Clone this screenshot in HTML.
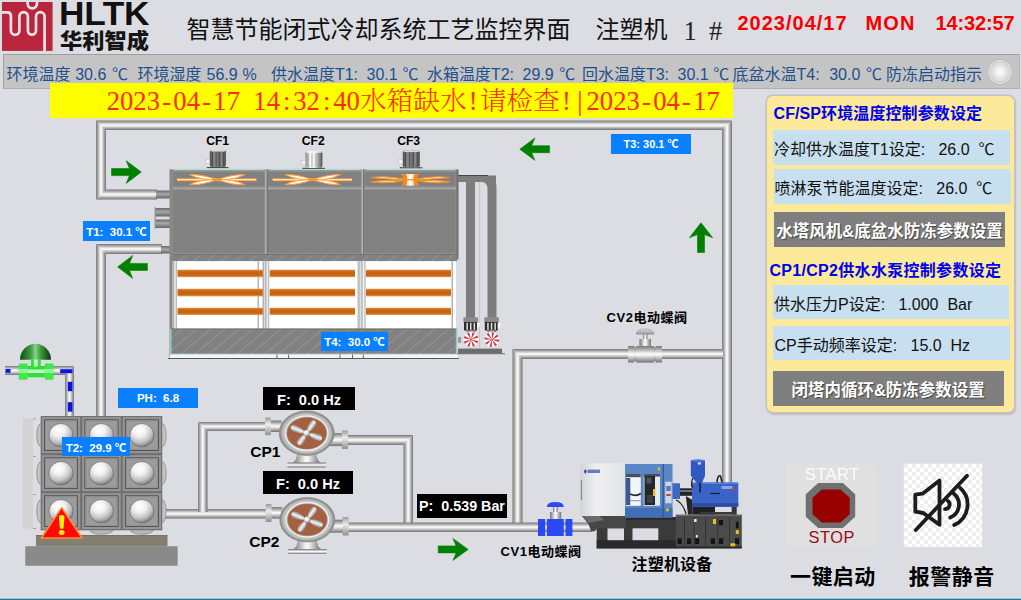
<!DOCTYPE html>
<html lang="zh"><head><meta charset="utf-8"><title>智慧节能闭式冷却系统工艺监控界面</title>
<style>
html,body{margin:0;padding:0}
body{width:1021px;height:600px;overflow:hidden;background:#dcdde3;font-family:"Liberation Sans","Noto Sans CJK SC",sans-serif;position:relative}
.a{position:absolute;white-space:nowrap;line-height:1}
#g{position:absolute;left:0;top:0}
.tag{position:absolute;background:#0a80ff;color:#fff;font-weight:bold;font-size:11.5px;text-align:center;white-space:pre;box-sizing:border-box}
.blk{position:absolute;background:#000;color:#fff;font-weight:bold;font-size:13.5px;text-align:center;white-space:pre;box-sizing:border-box}
.lab{position:absolute;color:#000;font-weight:bold;white-space:nowrap;line-height:1}
.row{position:absolute;background:#c8dff0;color:#111;font-size:16px;white-space:pre;box-sizing:border-box;line-height:1}
.gbtn{position:absolute;background:#7f7f7f;color:#fff;font-weight:bold;font-size:16.5px;text-align:center;white-space:nowrap;box-sizing:border-box;text-shadow:1px 1px 1px #444}
.c1{display:inline-block;width:13.333px;text-align:center}.c2{display:inline-block;width:26.667px;text-align:center;font-weight:300}
.ttl{position:absolute;color:#0000f0;font-weight:bold;font-size:16px;white-space:nowrap;line-height:1}
</style></head><body>
<svg id="g" width="1021" height="600" viewBox="0 0 1021 600">
<defs>
<linearGradient id="gcap" x1="0" y1="0" x2="0" y2="1"><stop offset="0" stop-color="#d8d8d8"/><stop offset="1" stop-color="#9a9a9a"/></linearGradient>
<linearGradient id="motd" x1="0" y1="0" x2="1" y2="0"><stop offset="0" stop-color="#4e4e4e"/><stop offset="0.3" stop-color="#8e8e8e"/><stop offset="0.55" stop-color="#6c6c6c"/><stop offset="0.75" stop-color="#888"/><stop offset="1" stop-color="#474747"/></linearGradient>
<linearGradient id="motl" x1="0" y1="0" x2="1" y2="0"><stop offset="0" stop-color="#8a8a8a"/><stop offset="0.3" stop-color="#fdfdfd"/><stop offset="0.6" stop-color="#ececec"/><stop offset="0.82" stop-color="#7a7a7a"/><stop offset="1" stop-color="#555"/></linearGradient>
<linearGradient id="postg" x1="0" y1="0" x2="1" y2="0"><stop offset="0" stop-color="#9a9a9a"/><stop offset="0.5" stop-color="#f2f2f2"/><stop offset="1" stop-color="#a8a8a8"/></linearGradient>
<linearGradient id="flg" x1="0" y1="0" x2="0" y2="1"><stop offset="0" stop-color="#9a9a9a"/><stop offset="0.4" stop-color="#ececec"/><stop offset="1" stop-color="#909090"/></linearGradient>
<linearGradient id="blade" x1="0" y1="0" x2="0" y2="1"><stop offset="0" stop-color="#7c7c7c"/><stop offset="0.5" stop-color="#f6f6f6"/><stop offset="1" stop-color="#888888"/></linearGradient>
<linearGradient id="mwhite" x1="0" y1="0" x2="1" y2="0"><stop offset="0" stop-color="#d2d3d6"/><stop offset="0.35" stop-color="#f0f0f2"/><stop offset="1" stop-color="#e2e3e6"/></linearGradient>
</defs>
<defs>
<linearGradient id="ph" x1="0" y1="0" x2="0" y2="1" gradientUnits="objectBoundingBox">
<stop offset="0" stop-color="#787878"/><stop offset="0.2" stop-color="#acacac"/><stop offset="0.46" stop-color="#f8f8f8"/><stop offset="0.56" stop-color="#f2f2f2"/><stop offset="0.82" stop-color="#a4a4a4"/><stop offset="1" stop-color="#727272"/>
</linearGradient>
<linearGradient id="pv" x1="0" y1="0" x2="1" y2="0" gradientUnits="objectBoundingBox">
<stop offset="0" stop-color="#787878"/><stop offset="0.2" stop-color="#acacac"/><stop offset="0.46" stop-color="#f8f8f8"/><stop offset="0.56" stop-color="#f2f2f2"/><stop offset="0.82" stop-color="#a4a4a4"/><stop offset="1" stop-color="#727272"/>
</linearGradient>
<linearGradient id="gv" x1="0" y1="0" x2="1" y2="0">
<stop offset="0" stop-color="#6a6a6a"/><stop offset="0.45" stop-color="#b8b8b8"/><stop offset="1" stop-color="#686868"/>
</linearGradient>
<linearGradient id="gh" x1="0" y1="0" x2="0" y2="1">
<stop offset="0" stop-color="#6a6a6a"/><stop offset="0.45" stop-color="#a8a8a8"/><stop offset="1" stop-color="#666"/>
</linearGradient>
<radialGradient id="ball" cx="0.4" cy="0.3" r="0.75">
<stop offset="0" stop-color="#ffffff"/><stop offset="0.35" stop-color="#f0f0f0"/><stop offset="0.7" stop-color="#bdbdbd"/><stop offset="1" stop-color="#6e6e6e"/>
</radialGradient>
<radialGradient id="led" cx="0.5" cy="0.5" r="0.5">
<stop offset="0" stop-color="#ffffff"/><stop offset="0.55" stop-color="#e4e4e4"/><stop offset="0.8" stop-color="#c4c4c4"/><stop offset="1" stop-color="#9a9a9a"/>
</radialGradient>
<radialGradient id="pumpring" cx="0.5" cy="0.5" r="0.5">
<stop offset="0.72" stop-color="#a2a2a2"/><stop offset="0.86" stop-color="#c6c6c6"/><stop offset="1" stop-color="#7c7c7c"/>
</radialGradient>
<linearGradient id="greend" x1="0" y1="0" x2="1" y2="0">
<stop offset="0" stop-color="#0e4a0e"/><stop offset="0.35" stop-color="#3f9f3f"/><stop offset="0.5" stop-color="#8ccf8c"/><stop offset="0.65" stop-color="#3f9f3f"/><stop offset="1" stop-color="#0a360a"/>
</linearGradient>
<linearGradient id="fan" x1="0" y1="0" x2="0" y2="1">
<stop offset="0" stop-color="#f08a24"/><stop offset="0.5" stop-color="#fff4e0"/><stop offset="1" stop-color="#f08a24"/>
</linearGradient>
<linearGradient id="obar" x1="0" y1="0" x2="0" y2="1">
<stop offset="0" stop-color="#e08a3a"/><stop offset="0.3" stop-color="#c8660f"/><stop offset="0.75" stop-color="#c8660f"/><stop offset="1" stop-color="#e6a060"/>
</linearGradient>
<pattern id="hatch" width="9" height="9" patternUnits="userSpaceOnUse" patternTransform="rotate(-40)">
<rect width="9" height="9" fill="#818181"/><rect y="0" width="9" height="0.7" fill="#9d9d9d"/>
</pattern>
<pattern id="checker" width="8" height="8" patternUnits="userSpaceOnUse">
<rect width="8" height="8" fill="#ffffff"/><rect width="4" height="4" fill="#eeeeee"/><rect x="4" y="4" width="4" height="4" fill="#eeeeee"/>
</pattern>
</defs>
<polygon points="106,189.5 157,189.5 157,199.5 96,199.5" fill="url(#ph)"/>
<polygon points="96,120.5 106,130.5 106,189.5 96,199.5" fill="url(#pv)"/>
<polygon points="96,120.5 732,120.5 722.5,130 105.5,130" fill="url(#ph)"/>
<polygon points="722,130.5 732,120.5 732,483 722,483" fill="url(#pv)"/>
<polygon points="96,244 162,244 162,254 106,254" fill="url(#ph)"/>
<polygon points="96,244 106,254 106,416 96,416" fill="url(#pv)"/>
<polygon points="512.5,349 723,349 723,359 522.5,359" fill="url(#ph)"/>
<polygon points="512.5,349 522.5,359 522.5,525 512.5,525" fill="url(#pv)"/>
<polygon points="163,509 270,509 270,518.5 163,518.5" fill="url(#ph)"/>
<polygon points="198,422 207.5,431.5 207.5,512 198,512" fill="url(#pv)"/>
<polygon points="198,422 268,422 268,431 207,431" fill="url(#ph)"/>
<polygon points="346,435 413,435 403,445 346,445" fill="url(#ph)"/>
<polygon points="403.5,444.5 413,435 413,526 403.5,526" fill="url(#pv)"/>
<polygon points="346,522.5 592,522.5 592,532 346,532" fill="url(#ph)"/>
<polygon points="5,366 74,366 65,375 5,375" fill="url(#ph)"/>
<polygon points="65,375 74,366 74,416 65,416" fill="url(#pv)"/>
<rect x="5.5" y="369" width="5" height="3.8" fill="#1010e8"/>
<rect x="60.2" y="369.2" width="12.2" height="4" fill="#1010e8"/>
<rect x="67.8" y="381.8" width="4.6" height="9.4" fill="#1010e8"/>
<rect x="67.8" y="402.2" width="4.6" height="9.4" fill="#1010e8"/>
<rect x="156" y="190.5" width="14" height="8" fill="url(#gh)"/>
<rect x="155" y="208" width="15" height="8.5" fill="url(#gh)"/>
<rect x="155" y="219.5" width="15" height="8.5" fill="url(#gh)"/>
<rect x="161" y="246" width="9" height="7.5" fill="url(#gh)"/>
<rect x="154.5" y="207" width="1.2" height="22" fill="#999"/>
<rect x="170" y="169.5" width="288" height="85" fill="#818181"/>
<rect x="173.5" y="168.5" width="89.5" height="1.7" fill="#b7dcd4"/>
<rect x="269.5" y="168.5" width="90" height="1.7" fill="#b7dcd4"/>
<rect x="366.5" y="168.5" width="88.5" height="1.7" fill="#b7dcd4"/>
<rect x="172.6" y="171.2" width="92.4" height="15.6" fill="none" stroke="#9c9c9c" stroke-width="0.7"/>
<rect x="172.6" y="189.6" width="92.4" height="63.6" fill="none" stroke="#999999" stroke-width="0.7"/>
<rect x="267.6" y="171.2" width="93.8" height="15.6" fill="none" stroke="#9c9c9c" stroke-width="0.7"/>
<rect x="267.6" y="189.6" width="93.8" height="63.6" fill="none" stroke="#999999" stroke-width="0.7"/>
<rect x="364.2" y="171.2" width="91.8" height="15.6" fill="none" stroke="#9c9c9c" stroke-width="0.7"/>
<rect x="364.2" y="189.6" width="91.8" height="63.6" fill="none" stroke="#999999" stroke-width="0.7"/>
<rect x="169.5" y="169.5" width="3" height="188" fill="#8a8682"/>
<rect x="173" y="187.6" width="285" height="1.2" fill="#b2b2b2"/>
<rect x="173" y="170.3" width="285" height="0.8" fill="#9c9c9c"/>
<rect x="265.2" y="169.5" width="1.6" height="85" fill="#b4b4b4"/>
<rect x="266.8" y="169.5" width="1" height="85" fill="#6c6c6c"/>
<rect x="361.7" y="169.5" width="1.6" height="85" fill="#b4b4b4"/>
<rect x="363.3" y="169.5" width="1" height="85" fill="#6c6c6c"/>
<rect x="456.5" y="169.5" width="2" height="90" fill="#6e6e6e"/>
<rect x="177" y="178.2" width="79.4" height="3" fill="#f7962e"/><rect x="177" y="179.15" width="79.4" height="1.1" fill="#fff1dc"/><path d="M217.2 179.7 Q232.5 178.85 244.7 184.6 Q233.4 185.45 217.2 179.7 Z" fill="#fff6ea" stroke="#f7a040" stroke-width="1.0" stroke-linejoin="round"/><path d="M217.2 179.7 Q233.4 173.95 244.7 174.8 Q232.5 180.55 217.2 179.7 Z" fill="#fff6ea" stroke="#f7a040" stroke-width="1.0" stroke-linejoin="round"/><path d="M217.2 179.7 Q201.9 178.85 189.7 184.6 Q201 185.45 217.2 179.7 Z" fill="#fff6ea" stroke="#f7a040" stroke-width="1.0" stroke-linejoin="round"/><path d="M217.2 179.7 Q201 173.95 189.7 174.8 Q201.9 180.55 217.2 179.7 Z" fill="#fff6ea" stroke="#f7a040" stroke-width="1.0" stroke-linejoin="round"/><ellipse cx="217.2" cy="179.7" rx="5" ry="1.1" fill="#f7962e"/>
<rect x="272.6" y="178.2" width="79.4" height="3" fill="#f7962e"/><rect x="272.6" y="179.15" width="79.4" height="1.1" fill="#fff1dc"/><path d="M312.8 179.7 Q328.1 178.85 340.3 184.6 Q329 185.45 312.8 179.7 Z" fill="#fff6ea" stroke="#f7a040" stroke-width="1.0" stroke-linejoin="round"/><path d="M312.8 179.7 Q329 173.95 340.3 174.8 Q328.1 180.55 312.8 179.7 Z" fill="#fff6ea" stroke="#f7a040" stroke-width="1.0" stroke-linejoin="round"/><path d="M312.8 179.7 Q297.5 178.85 285.3 184.6 Q296.6 185.45 312.8 179.7 Z" fill="#fff6ea" stroke="#f7a040" stroke-width="1.0" stroke-linejoin="round"/><path d="M312.8 179.7 Q296.6 173.95 285.3 174.8 Q297.5 180.55 312.8 179.7 Z" fill="#fff6ea" stroke="#f7a040" stroke-width="1.0" stroke-linejoin="round"/><ellipse cx="312.8" cy="179.7" rx="5" ry="1.1" fill="#f7962e"/>
<path d="M414.3 180.1 Q434.3 184.1 449.5 181.9 Q434.3 179.9 414.3 180.1 Z" fill="#fff0dc" stroke="#f59024" stroke-width="1.1" stroke-linejoin="round"/><path d="M414.3 179.3 Q434.3 175.3 449.5 177.5 Q434.3 179.5 414.3 179.3 Z" fill="#fff0dc" stroke="#f59024" stroke-width="1.1" stroke-linejoin="round"/><path d="M406.3 180.1 Q386.3 184.1 371.1 181.9 Q386.3 179.9 406.3 180.1 Z" fill="#fff0dc" stroke="#f59024" stroke-width="1.1" stroke-linejoin="round"/><path d="M406.3 179.3 Q386.3 175.3 371.1 177.5 Q386.3 179.5 406.3 179.3 Z" fill="#fff0dc" stroke="#f59024" stroke-width="1.1" stroke-linejoin="round"/><path d="M400.9 174.1 L419.7 174.1 Q413.8 179.7 419.7 185.6 L400.9 185.6 Q406.8 179.7 400.9 174.1 Z" fill="#f58a22"/><path d="M406.3 174.1 L414.3 174.1 Q412.3 179.7 414.3 185.6 L406.3 185.6 Q408.3 179.7 406.3 174.1 Z" fill="#ffe6cc"/><rect x="409.2" y="174.1" width="2.2" height="11.5" fill="#fff"/><rect x="403.3" y="179.1" width="14" height="1.2" fill="#f58a22"/>
<rect x="206.8" y="167" width="21.6" height="1.1" fill="#4a4a4a"/><rect x="209.8" y="150" width="16.1" height="17" rx="2" fill="url(#motd)"/><rect x="211.95" y="152.2" width="0.9" height="14" fill="#454545"/><rect x="215.583" y="152.2" width="0.9" height="14" fill="#454545"/><rect x="219.217" y="152.2" width="0.9" height="14" fill="#454545"/><rect x="222.85" y="152.2" width="0.9" height="14" fill="#454545"/><rect x="210.6" y="150" width="14.5" height="1.6" rx="0.8" fill="#d9d9d9"/><rect x="205.9" y="159.4" width="3.8" height="4.4" fill="#f4f4f4" stroke="#aaa" stroke-width="0.4"/>
<rect x="302.4" y="167.8" width="22.5" height="1.1" fill="#4a4a4a"/><rect x="305.4" y="151.2" width="17" height="16.6" rx="2" fill="url(#motl)"/><rect x="307.55" y="153.4" width="0.9" height="13.6" fill="#9a9a9a"/><rect x="311.483" y="153.4" width="0.9" height="13.6" fill="#9a9a9a"/><rect x="315.417" y="153.4" width="0.9" height="13.6" fill="#9a9a9a"/><rect x="319.35" y="153.4" width="0.9" height="13.6" fill="#9a9a9a"/><rect x="306.2" y="151.2" width="15.4" height="1.6" rx="0.8" fill="#f4f4f4"/><rect x="301.5" y="160.2" width="3.8" height="4.4" fill="#f4f4f4" stroke="#aaa" stroke-width="0.4"/>
<rect x="399.8" y="167.2" width="22.5" height="1.1" fill="#4a4a4a"/><rect x="402.8" y="150.4" width="17" height="16.8" rx="2" fill="url(#motd)"/><rect x="404.95" y="152.6" width="0.9" height="13.8" fill="#454545"/><rect x="408.883" y="152.6" width="0.9" height="13.8" fill="#454545"/><rect x="412.817" y="152.6" width="0.9" height="13.8" fill="#454545"/><rect x="416.75" y="152.6" width="0.9" height="13.8" fill="#454545"/><rect x="403.6" y="150.4" width="15.4" height="1.6" rx="0.8" fill="#d9d9d9"/><rect x="398.9" y="159.6" width="3.8" height="4.4" fill="#f4f4f4" stroke="#aaa" stroke-width="0.4"/>
<rect x="172" y="254.5" width="285" height="6.8" fill="url(#hatch)"/>
<rect x="172" y="254.2" width="285" height="0.8" fill="#6a6a6a"/>
<rect x="173" y="261.2" width="91" height="67.6" fill="#ffffff"/>
<rect x="173" y="261.2" width="4" height="67.6" fill="url(#postg)"/>
<rect x="257.5" y="261.2" width="1.4" height="67.6" fill="#b0b0b0"/>
<rect x="262.6" y="261.2" width="1.4" height="67.6" fill="#b0b0b0"/>
<rect x="177.5" y="269.7" width="85.3" height="7.5" fill="url(#obar)"/>
<rect x="177.5" y="288.8" width="85.3" height="7.6" fill="url(#obar)"/>
<rect x="177.5" y="307.8" width="85.3" height="7.2" fill="url(#obar)"/>
<rect x="265.2" y="261.2" width="94.3" height="67.6" fill="#ffffff"/>
<rect x="265.2" y="261.2" width="4" height="67.6" fill="url(#postg)"/>
<rect x="357.5" y="261.2" width="2.4" height="67.6" fill="#c0c0c0"/>
<rect x="269.7" y="269.7" width="85.3" height="7.5" fill="url(#obar)"/>
<rect x="269.7" y="288.8" width="85.3" height="7.6" fill="url(#obar)"/>
<rect x="269.7" y="307.8" width="85.3" height="7.2" fill="url(#obar)"/>
<rect x="361.5" y="261.2" width="94.5" height="67.6" fill="#ffffff"/>
<rect x="361.5" y="261.2" width="4" height="67.6" fill="url(#postg)"/>
<rect x="451.5" y="261.2" width="1.5" height="67.6" fill="#b0b0b0"/>
<rect x="366" y="269.7" width="85" height="7.5" fill="url(#obar)"/>
<rect x="366" y="288.8" width="85" height="7.6" fill="url(#obar)"/>
<rect x="366" y="307.8" width="85" height="7.2" fill="url(#obar)"/>
<rect x="170.5" y="328.8" width="286.5" height="25.6" fill="url(#hatch)"/>
<rect x="170.5" y="328.5" width="286.5" height="0.9" fill="#6a6a6a"/>
<rect x="170" y="328.8" width="1.5" height="26" fill="#8fd0c2"/>
<rect x="455.8" y="328.8" width="1.5" height="26" fill="#8fd0c2"/>
<rect x="170.5" y="353.6" width="286.5" height="1" fill="#9fd2c8"/>
<rect x="170" y="354.5" width="288" height="3.8" fill="#f6f6f6"/>
<rect x="168" y="358" width="291" height="1" fill="#555"/>
<rect x="276.5" y="354.5" width="0.9" height="3.8" fill="#555"/>
<rect x="288.2" y="354.5" width="0.9" height="3.8" fill="#555"/>
<rect x="339.5" y="354.5" width="0.9" height="3.8" fill="#555"/>
<rect x="352" y="354.5" width="0.9" height="3.8" fill="#555"/>
<rect x="362.8" y="354.5" width="0.9" height="3.8" fill="#555"/>
<rect x="458" y="175.5" width="38" height="6.5" fill="#7c7c7c"/>
<rect x="458" y="175" width="30" height="1" fill="#444"/>
<path d="M466 182 L466 318 L475 318 L475 182 Q475 176 469 176 L460 176 L460 182 Z" fill="#7d7d7d"/>
<path d="M487.5 190 L487.5 318 L496.5 318 L496.5 188 Q496.5 176 486 176 L478 176 L478 182 L482 182 Q487.5 182 487.5 190 Z" fill="#7d7d7d"/>
<rect x="479.3" y="182" width="0.8" height="172" fill="#bdbdbd"/>
<rect x="463.4" y="317.3" width="14.6" height="5" fill="#8a8a8a"/>
<rect x="464" y="322" width="13" height="8.5" fill="#2e2e2e"/>
<rect x="466.4" y="322.8" width="1.5" height="7" fill="#dedede"/>
<rect x="470" y="322.8" width="1.5" height="7" fill="#dedede"/>
<rect x="473.6" y="322.8" width="1.5" height="7" fill="#dedede"/>
<path d="M477 323 l3.4 0 l-1.6 5.5 l-1.8 0z" fill="#f4f4f4"/>
<rect x="466.5" y="330.4" width="9" height="1.6" fill="#777"/>
<circle cx="471" cy="339.6" r="8" fill="#fdfdfd" stroke="#cfcfcf" stroke-width="0.7"/>
<path d="M471 339.6 L478.15 341.05 A7.3 7.3 0 0 1 477.28 343.31 Z" fill="#c9363c"/>
<path d="M471 339.6 L475.03 345.68 A7.3 7.3 0 0 1 472.82 346.67 Z" fill="#c9363c"/>
<path d="M471 339.6 L469.55 346.75 A7.3 7.3 0 0 1 467.29 345.88 Z" fill="#c9363c"/>
<path d="M471 339.6 L464.92 343.63 A7.3 7.3 0 0 1 463.93 341.42 Z" fill="#c9363c"/>
<path d="M471 339.6 L463.85 338.15 A7.3 7.3 0 0 1 464.72 335.89 Z" fill="#c9363c"/>
<path d="M471 339.6 L466.97 333.52 A7.3 7.3 0 0 1 469.18 332.53 Z" fill="#c9363c"/>
<path d="M471 339.6 L472.45 332.45 A7.3 7.3 0 0 1 474.71 333.32 Z" fill="#c9363c"/>
<path d="M471 339.6 L477.08 335.57 A7.3 7.3 0 0 1 478.07 337.78 Z" fill="#c9363c"/>
<circle cx="471" cy="339.6" r="1.2" fill="#d86a6e"/>
<rect x="484.2" y="317.3" width="14.6" height="5" fill="#8a8a8a"/>
<rect x="484.8" y="322" width="13" height="8.5" fill="#2e2e2e"/>
<rect x="487.2" y="322.8" width="1.5" height="7" fill="#dedede"/>
<rect x="490.8" y="322.8" width="1.5" height="7" fill="#dedede"/>
<rect x="494.4" y="322.8" width="1.5" height="7" fill="#dedede"/>
<path d="M497.8 323 l3.4 0 l-1.6 5.5 l-1.8 0z" fill="#f4f4f4"/>
<rect x="487.3" y="330.4" width="9" height="1.6" fill="#777"/>
<circle cx="491.8" cy="339.6" r="8" fill="#fdfdfd" stroke="#cfcfcf" stroke-width="0.7"/>
<path d="M491.8 339.6 L499.10 339.60 A7.3 7.3 0 0 1 498.70 341.99 Z" fill="#c9363c"/>
<path d="M491.8 339.6 L496.96 344.76 A7.3 7.3 0 0 1 494.99 346.17 Z" fill="#c9363c"/>
<path d="M491.8 339.6 L491.80 346.90 A7.3 7.3 0 0 1 489.41 346.50 Z" fill="#c9363c"/>
<path d="M491.8 339.6 L486.64 344.76 A7.3 7.3 0 0 1 485.23 342.79 Z" fill="#c9363c"/>
<path d="M491.8 339.6 L484.50 339.60 A7.3 7.3 0 0 1 484.90 337.21 Z" fill="#c9363c"/>
<path d="M491.8 339.6 L486.64 334.44 A7.3 7.3 0 0 1 488.61 333.03 Z" fill="#c9363c"/>
<path d="M491.8 339.6 L491.80 332.30 A7.3 7.3 0 0 1 494.19 332.70 Z" fill="#c9363c"/>
<path d="M491.8 339.6 L496.96 334.44 A7.3 7.3 0 0 1 498.37 336.41 Z" fill="#c9363c"/>
<circle cx="491.8" cy="339.6" r="1.2" fill="#d86a6e"/>
<rect x="458" y="348.6" width="44" height="4.8" fill="#6c6c6c"/>
<rect x="457" y="353.4" width="48" height="0.8" fill="#555"/>
<rect x="458" y="337" width="3.2" height="5.8" fill="#999"/>
<rect x="23" y="418.5" width="10" height="110" fill="#d2d2d2"/>
<rect x="33" y="418.5" width="3" height="0.7" fill="#8a8a8a"/>
<rect x="33" y="456" width="3" height="0.7" fill="#8a8a8a"/>
<rect x="33" y="494" width="3" height="0.7" fill="#8a8a8a"/>
<rect x="33" y="528" width="3" height="0.7" fill="#8a8a8a"/>
<ellipse cx="40.8" cy="435.2" rx="4" ry="11.5" fill="#c4c4c4" stroke="#77707a" stroke-width="0.6"/>
<ellipse cx="162.15" cy="435.2" rx="4" ry="11.5" fill="#c4c4c4" stroke="#77707a" stroke-width="0.6"/>
<ellipse cx="40.8" cy="473.2" rx="4" ry="11.5" fill="#c4c4c4" stroke="#77707a" stroke-width="0.6"/>
<ellipse cx="162.15" cy="473.2" rx="4" ry="11.5" fill="#c4c4c4" stroke="#77707a" stroke-width="0.6"/>
<ellipse cx="40.8" cy="511.2" rx="4" ry="11.5" fill="#c4c4c4" stroke="#77707a" stroke-width="0.6"/>
<ellipse cx="162.15" cy="511.2" rx="4" ry="11.5" fill="#c4c4c4" stroke="#77707a" stroke-width="0.6"/>
<ellipse cx="61.025" cy="530.2" rx="11.5" ry="4" fill="#b9b9b9" stroke="#77707a" stroke-width="0.6"/>
<ellipse cx="101.475" cy="530.2" rx="11.5" ry="4" fill="#b9b9b9" stroke="#77707a" stroke-width="0.6"/>
<ellipse cx="141.925" cy="530.2" rx="11.5" ry="4" fill="#b9b9b9" stroke="#77707a" stroke-width="0.6"/>
<rect x="40.8" y="416.2" width="121.35" height="114" fill="#9a9a9a"/>
<rect x="41.25" y="416.65" width="39.55" height="37.1" fill="#949494" stroke="#666666" stroke-width="0.9"/>
<rect x="44.4" y="419.8" width="33.25" height="30.8" fill="#9c9c9c" stroke="#3c3c3c" stroke-width="0.7"/>
<rect x="45.6" y="421" width="30.85" height="28.4" fill="none" stroke="#8a8a8a" stroke-width="0.6"/>
<ellipse cx="61.025" cy="435.2" rx="12.1" ry="11.7" fill="url(#ball)" stroke="#6e6472" stroke-width="0.7"/>
<rect x="81.7" y="416.65" width="39.55" height="37.1" fill="#949494" stroke="#666666" stroke-width="0.9"/>
<rect x="84.85" y="419.8" width="33.25" height="30.8" fill="#9c9c9c" stroke="#3c3c3c" stroke-width="0.7"/>
<rect x="86.05" y="421" width="30.85" height="28.4" fill="none" stroke="#8a8a8a" stroke-width="0.6"/>
<ellipse cx="101.475" cy="435.2" rx="12.1" ry="11.7" fill="url(#ball)" stroke="#6e6472" stroke-width="0.7"/>
<rect x="122.15" y="416.65" width="39.55" height="37.1" fill="#949494" stroke="#666666" stroke-width="0.9"/>
<rect x="125.3" y="419.8" width="33.25" height="30.8" fill="#9c9c9c" stroke="#3c3c3c" stroke-width="0.7"/>
<rect x="126.5" y="421" width="30.85" height="28.4" fill="none" stroke="#8a8a8a" stroke-width="0.6"/>
<ellipse cx="141.925" cy="435.2" rx="12.1" ry="11.7" fill="url(#ball)" stroke="#6e6472" stroke-width="0.7"/>
<rect x="41.25" y="454.65" width="39.55" height="37.1" fill="#949494" stroke="#666666" stroke-width="0.9"/>
<rect x="44.4" y="457.8" width="33.25" height="30.8" fill="#9c9c9c" stroke="#3c3c3c" stroke-width="0.7"/>
<rect x="45.6" y="459" width="30.85" height="28.4" fill="none" stroke="#8a8a8a" stroke-width="0.6"/>
<ellipse cx="61.025" cy="473.2" rx="12.1" ry="11.7" fill="url(#ball)" stroke="#6e6472" stroke-width="0.7"/>
<rect x="81.7" y="454.65" width="39.55" height="37.1" fill="#949494" stroke="#666666" stroke-width="0.9"/>
<rect x="84.85" y="457.8" width="33.25" height="30.8" fill="#9c9c9c" stroke="#3c3c3c" stroke-width="0.7"/>
<rect x="86.05" y="459" width="30.85" height="28.4" fill="none" stroke="#8a8a8a" stroke-width="0.6"/>
<ellipse cx="101.475" cy="473.2" rx="12.1" ry="11.7" fill="url(#ball)" stroke="#6e6472" stroke-width="0.7"/>
<rect x="122.15" y="454.65" width="39.55" height="37.1" fill="#949494" stroke="#666666" stroke-width="0.9"/>
<rect x="125.3" y="457.8" width="33.25" height="30.8" fill="#9c9c9c" stroke="#3c3c3c" stroke-width="0.7"/>
<rect x="126.5" y="459" width="30.85" height="28.4" fill="none" stroke="#8a8a8a" stroke-width="0.6"/>
<ellipse cx="141.925" cy="473.2" rx="12.1" ry="11.7" fill="url(#ball)" stroke="#6e6472" stroke-width="0.7"/>
<rect x="41.25" y="492.65" width="39.55" height="37.1" fill="#949494" stroke="#666666" stroke-width="0.9"/>
<rect x="44.4" y="495.8" width="33.25" height="30.8" fill="#9c9c9c" stroke="#3c3c3c" stroke-width="0.7"/>
<rect x="45.6" y="497" width="30.85" height="28.4" fill="none" stroke="#8a8a8a" stroke-width="0.6"/>
<ellipse cx="61.025" cy="511.2" rx="12.1" ry="11.7" fill="url(#ball)" stroke="#6e6472" stroke-width="0.7"/>
<rect x="81.7" y="492.65" width="39.55" height="37.1" fill="#949494" stroke="#666666" stroke-width="0.9"/>
<rect x="84.85" y="495.8" width="33.25" height="30.8" fill="#9c9c9c" stroke="#3c3c3c" stroke-width="0.7"/>
<rect x="86.05" y="497" width="30.85" height="28.4" fill="none" stroke="#8a8a8a" stroke-width="0.6"/>
<ellipse cx="101.475" cy="511.2" rx="12.1" ry="11.7" fill="url(#ball)" stroke="#6e6472" stroke-width="0.7"/>
<rect x="122.15" y="492.65" width="39.55" height="37.1" fill="#949494" stroke="#666666" stroke-width="0.9"/>
<rect x="125.3" y="495.8" width="33.25" height="30.8" fill="#9c9c9c" stroke="#3c3c3c" stroke-width="0.7"/>
<rect x="126.5" y="497" width="30.85" height="28.4" fill="none" stroke="#8a8a8a" stroke-width="0.6"/>
<ellipse cx="141.925" cy="511.2" rx="12.1" ry="11.7" fill="url(#ball)" stroke="#6e6472" stroke-width="0.7"/>
<rect x="36" y="535.2" width="131.5" height="11.2" fill="#857f72"/>
<rect x="36" y="535.2" width="131.5" height="0.9" fill="#6f6a60"/>
<rect x="25.3" y="546.2" width="152.4" height="19.6" fill="#8a8a8a"/>
<path d="M61.7 507.6 L82 538 L41.4 538 Z" fill="#ff0a0a" stroke="#ff8a30" stroke-width="1.5" stroke-linejoin="round"/>
<path d="M58.9 517.2 Q58.9 515 61.7 515 Q64.5 515 64.5 517.2 L63.6 527.6 Q63.5 529 61.7 529 Q59.9 529 59.8 527.6 Z" fill="#ffee10"/>
<ellipse cx="61.7" cy="532.6" rx="2.9" ry="2.5" fill="#ffee10"/>
<path d="M20 359.8 A15.5 16 0 0 1 51 359.8 Z" fill="url(#greend)"/>
<rect x="31" y="359.5" width="9.8" height="8" fill="#35e23a"/>
<rect x="34" y="359.5" width="3.6" height="18" fill="#c8ffd0"/>
<rect x="18.7" y="363.5" width="8.8" height="16.3" rx="1" fill="#3fe84a"/>
<rect x="44.8" y="363.5" width="8.8" height="16.3" rx="1" fill="#3fe84a"/>
<rect x="27.5" y="366.5" width="17.3" height="10.8" fill="#2fe03a"/>
<rect x="27.5" y="369.5" width="17.3" height="3.5" fill="#bdfcc6"/>
<rect x="18.7" y="369" width="8.8" height="4" fill="#8ff59a"/>
<rect x="44.8" y="369" width="8.8" height="4" fill="#8ff59a"/>
<rect x="269.7" y="420.5" width="12" height="11.5" fill="url(#ph)"/><rect x="265" y="417.4" width="6" height="17.9" rx="1" fill="url(#flg)"/><rect x="328.7" y="433.1" width="14" height="13" fill="url(#ph)"/><rect x="341.9" y="430.4" width="6.2" height="18.5" rx="1" fill="url(#flg)"/><path d="M297.2 453.2 L316.2 453.2 Q316.7 460.2 320.7 462.7 L292.7 462.7 Q296.7 460.2 297.2 453.2 Z" fill="url(#pv)"/><rect x="287.2" y="462.5" width="39" height="5" rx="1" fill="url(#ph)"/><ellipse cx="306.7" cy="433.2" rx="27.5" ry="22.2" fill="url(#pumpring)" stroke="#8e8e8e" stroke-width="0.8"/><ellipse cx="306.7" cy="433.2" rx="21.3" ry="17.2" fill="none" stroke="#efefef" stroke-width="1.5"/><ellipse cx="306.7" cy="433.2" rx="19.6" ry="15.7" fill="#a5603f"/><g transform="translate(306.5 433.2) rotate(-56) scale(0.9125 1)"><path d="M1 0 C4 -2 8 -3.7 12 -3.5 C15.5 -3.3 16.6 -1 16.3 0.4 C16 2.7 13 3.7 10 3.3 C6 2.6 3 1.2 1 0 Z" fill="url(#blade)"/></g><g transform="translate(306.5 433.2) rotate(20) scale(1.0125 1)"><path d="M1 0 C4 -2 8 -3.7 12 -3.5 C15.5 -3.3 16.6 -1 16.3 0.4 C16 2.7 13 3.7 10 3.3 C6 2.6 3 1.2 1 0 Z" fill="url(#blade)"/></g><g transform="translate(306.5 433.2) rotate(126) scale(0.8625 1)"><path d="M1 0 C4 -2 8 -3.7 12 -3.5 C15.5 -3.3 16.6 -1 16.3 0.4 C16 2.7 13 3.7 10 3.3 C6 2.6 3 1.2 1 0 Z" fill="url(#blade)"/></g><g transform="translate(306.5 433.2) rotate(202) scale(1.025 1)"><path d="M1 0 C4 -2 8 -3.7 12 -3.5 C15.5 -3.3 16.6 -1 16.3 0.4 C16 2.7 13 3.7 10 3.3 C6 2.6 3 1.2 1 0 Z" fill="url(#blade)"/></g><circle cx="306.5" cy="433.2" r="3.3" fill="url(#ball)" stroke="#8a8a8a" stroke-width="0.4"/><rect x="270.3" y="507.1" width="12" height="11.5" fill="url(#ph)"/><rect x="265.6" y="504" width="6" height="17.9" rx="1" fill="url(#flg)"/><rect x="329.3" y="519.7" width="14" height="13" fill="url(#ph)"/><rect x="342.5" y="517" width="6.2" height="18.5" rx="1" fill="url(#flg)"/><path d="M297.8 539.8 L316.8 539.8 Q317.3 546.8 321.3 549.3 L293.3 549.3 Q297.3 546.8 297.8 539.8 Z" fill="url(#pv)"/><rect x="287.8" y="549.1" width="39" height="5" rx="1" fill="url(#ph)"/><ellipse cx="307.3" cy="519.8" rx="27.5" ry="22.2" fill="url(#pumpring)" stroke="#8e8e8e" stroke-width="0.8"/><ellipse cx="307.3" cy="519.8" rx="21.3" ry="17.2" fill="none" stroke="#efefef" stroke-width="1.5"/><ellipse cx="307.3" cy="519.8" rx="19.6" ry="15.7" fill="#a5603f"/><g transform="translate(307.1 519.8) rotate(-56) scale(0.9125 1)"><path d="M1 0 C4 -2 8 -3.7 12 -3.5 C15.5 -3.3 16.6 -1 16.3 0.4 C16 2.7 13 3.7 10 3.3 C6 2.6 3 1.2 1 0 Z" fill="url(#blade)"/></g><g transform="translate(307.1 519.8) rotate(20) scale(1.0125 1)"><path d="M1 0 C4 -2 8 -3.7 12 -3.5 C15.5 -3.3 16.6 -1 16.3 0.4 C16 2.7 13 3.7 10 3.3 C6 2.6 3 1.2 1 0 Z" fill="url(#blade)"/></g><g transform="translate(307.1 519.8) rotate(126) scale(0.8625 1)"><path d="M1 0 C4 -2 8 -3.7 12 -3.5 C15.5 -3.3 16.6 -1 16.3 0.4 C16 2.7 13 3.7 10 3.3 C6 2.6 3 1.2 1 0 Z" fill="url(#blade)"/></g><g transform="translate(307.1 519.8) rotate(202) scale(1.025 1)"><path d="M1 0 C4 -2 8 -3.7 12 -3.5 C15.5 -3.3 16.6 -1 16.3 0.4 C16 2.7 13 3.7 10 3.3 C6 2.6 3 1.2 1 0 Z" fill="url(#blade)"/></g><circle cx="307.1" cy="519.8" r="3.3" fill="url(#ball)" stroke="#8a8a8a" stroke-width="0.4"/>
<rect x="643" y="333.5" width="4.4" height="6" fill="url(#pv)"/>
<rect x="639.4" y="339" width="11.6" height="7.4" fill="url(#pv)"/>
<path d="M636.2 334.2 Q636.2 329 645.1 329 Q654 329 654 334.2 Z" fill="url(#gcap)" stroke="#8c8c8c" stroke-width="0.5"/>
<rect x="634" y="347.5" width="22" height="13.5" fill="url(#ph)"/>
<rect x="636.2" y="346" width="17.8" height="16.6" fill="url(#ph)"/>
<rect x="628" y="346" width="6.5" height="16.6" rx="0.6" fill="url(#ph)"/>
<rect x="655.5" y="346" width="6.5" height="16.6" rx="0.6" fill="url(#ph)"/>
<rect x="553" y="506.5" width="4.8" height="6" fill="url(#pv)"/>
<rect x="550" y="512" width="11.2" height="7.2" fill="url(#pv)"/>
<path d="M546.9 507 Q546.9 501.9 555.3 501.9 Q563.8 501.9 563.8 507 Z" fill="#2c4af0"/>
<rect x="546.9" y="519" width="16.9" height="17" fill="#2b49f2"/>
<rect x="538" y="519" width="7.2" height="17" fill="#2b49f2"/>
<rect x="565.5" y="519" width="6.9" height="17" fill="#2b49f2"/>
<rect x="596.7" y="517" width="80" height="31.4" fill="#3a3a3a"/>
<rect x="596.7" y="517" width="80" height="3" fill="#2b2b2b"/>
<rect x="596.7" y="540.2" width="80" height="8.2" fill="#2a2a2a"/>
<rect x="607.5" y="528.3" width="16.5" height="11.9" fill="#dcdde3"/>
<rect x="632.5" y="528.3" width="25.8" height="11.9" fill="#dcdde3"/>
<path d="M581.5 515.5 L626 515.5 L626 528.3 L598 528.3 L594 531.5 L591 531 L588.5 524 Z" fill="#474747"/>
<path d="M583 516 L600 516 L604 520 L589 523 Z" fill="#6a6a6a"/>
<rect x="675.8" y="515" width="66" height="33.4" fill="#4b4b4b"/>
<rect x="675.8" y="514.5" width="66" height="1.5" fill="#6a6a6a"/>
<rect x="675.8" y="546.4" width="66" height="2" fill="#2c2c2c"/>
<rect x="684" y="517" width="0.8" height="29.5" fill="#2e2e2e"/>
<rect x="693.7" y="517" width="0.8" height="29.5" fill="#2e2e2e"/>
<rect x="705" y="517" width="0.8" height="29.5" fill="#2e2e2e"/>
<rect x="717.5" y="517" width="0.8" height="29.5" fill="#2e2e2e"/>
<rect x="729" y="517" width="0.8" height="29.5" fill="#2e2e2e"/>
<rect x="677.5" y="538.3" width="4.2" height="5.8" fill="#141414"/>
<rect x="687" y="538.3" width="4.2" height="5.8" fill="#141414"/>
<rect x="695" y="538.3" width="4.2" height="5.8" fill="#141414"/>
<rect x="710.8" y="538.3" width="4.2" height="5.8" fill="#141414"/>
<rect x="719" y="538.3" width="4.2" height="5.8" fill="#141414"/>
<rect x="735" y="538.3" width="4.2" height="5.8" fill="#141414"/>
<rect x="713" y="519" width="3" height="5" fill="#e2c21c"/>
<rect x="735.8" y="530" width="3" height="4" fill="#e2c21c"/>
<rect x="730.3" y="543.3" width="5" height="3" fill="#e2c21c"/>
<rect x="719" y="520" width="4" height="5.2" fill="#131313"/>
<rect x="735.8" y="521.7" width="2.8" height="6.6" fill="#131313"/>
<rect x="694" y="519" width="2.6" height="3" fill="#e8e8e8"/>
<rect x="695.8" y="535" width="2" height="2.6" fill="#e8e8e8"/>
<rect x="580" y="463.3" width="45.4" height="52.6" rx="1" fill="url(#mwhite)"/>
<rect x="580.8" y="480" width="1.3" height="20" fill="#8e8e96"/>
<path d="M583.7 471.5 l1.6 -2.5 l1.6 2.5 l-1.6 2.5 z" fill="#3a4fa8"/><rect x="587.5" y="469.6" width="12.5" height="3.4" fill="#5a6db8" opacity="0.9"/>
<rect x="625" y="464" width="47.5" height="53.5" fill="#5a86c6"/>
<rect x="625" y="508" width="47.5" height="9.5" fill="#416fb5"/>
<rect x="625.8" y="474" width="15" height="31.8" fill="#f3f5f8"/>
<rect x="625.8" y="474" width="15" height="3.2" fill="#4b4f57"/>
<rect x="625.8" y="478" width="4.5" height="27" fill="#3d5a8c"/>
<path d="M630 494 Q636 497 640.8 493.5" fill="none" stroke="#23262c" stroke-width="1.6"/>
<rect x="630.3" y="500" width="10.5" height="1.2" fill="#9aa6b8"/>
<rect x="643.7" y="474" width="16.3" height="31.8" fill="#e4e9f0"/>
<rect x="643.7" y="474" width="16.3" height="2.6" fill="#4b4f57"/>
<rect x="644.5" y="476" width="10.5" height="29" fill="#23262b"/>
<rect x="646.5" y="477.5" width="5" height="6" fill="#4f5560"/>
<rect x="647" y="495" width="6" height="8" fill="#3a3f49"/>
<rect x="653" y="489" width="2.3" height="7" fill="#e2c21c"/>
<rect x="662.5" y="464" width="1.3" height="53.5" fill="#2f5694"/>
<rect x="665.3" y="481.7" width="6.4" height="21.6" fill="#d0d5de"/>
<rect x="666.3" y="486" width="4.4" height="5" fill="#5a77b5"/>
<rect x="666.3" y="494" width="4.4" height="2" fill="#b44"/>
<rect x="665.8" y="508.3" width="3" height="3" fill="#e2c21c"/>
<rect x="657.8" y="467.5" width="2.2" height="3" fill="#e2c21c"/>
<rect x="680" y="488.3" width="12" height="7.5" fill="#22242a"/>
<rect x="680" y="490.3" width="12" height="1.4" fill="#8f949e"/>
<rect x="672.5" y="483.3" width="7.5" height="15.7" fill="#3d66c2"/>
<path d="M685.8 496 L692.5 500 L692.5 514.5 L688 514.5 Z" fill="#24262a"/>
<path d="M676 500 Q683 503 686 514" fill="none" stroke="#222" stroke-width="1.3"/>
<rect x="692.5" y="506.5" width="22.5" height="8" fill="#1f2023"/>
<rect x="731.7" y="506.5" width="5" height="8" fill="#34353a"/>
<rect x="700" y="512" width="36" height="2.6" fill="#3a3a3c"/>
<rect x="692" y="482.5" width="46.3" height="24.2" rx="1" fill="#3b63c6"/>
<rect x="692" y="503.2" width="46.3" height="3.5" fill="#2b4ca2"/>
<rect x="692" y="482.5" width="46.3" height="1.4" fill="#5d83dc"/>
<rect x="710.5" y="492.8" width="9.5" height="1.3" fill="#18214a"/>
<rect x="721.5" y="486" width="11" height="3" fill="#8ba4e4"/>
<rect x="731.5" y="488.5" width="2.6" height="2.6" fill="#d23c3c"/>
<path d="M690.8 460.6 L705 460.6 L705 475.8 L702.5 481.7 L701.6 487 L700.2 492.5 L699 487 L695.8 481.7 L690.8 475.8 Z" fill="#3058c0"/>
<ellipse cx="697.9" cy="460.6" rx="7.1" ry="1.3" fill="#4f76da"/>
<rect x="697.8" y="462.3" width="3.2" height="2.2" fill="#ecebff" opacity="0.85"/>
<rect x="699.2" y="483" width="1.8" height="9.5" fill="#1c2550"/>
<path d="M693 478 Q690.5 483 692.5 488" fill="none" stroke="#1e1e22" stroke-width="1.3"/>
<path d="M717 482.5 Q717.5 474.5 720.5 476 L722 482.5" fill="none" stroke="#1e1e22" stroke-width="1.5"/>
<polygon transform="translate(126.4 172.1) rotate(0)" points="-14.9,-3.5 3,-3.5 -0.2,-11.4 14.9,0 -0.2,11.4 3,3.5 -14.9,3.5" fill="#008000" stroke="#008000" stroke-width="0.6" stroke-linejoin="round"/><polygon transform="translate(534.7 149.2) rotate(180)" points="-14.9,-3.5 3,-3.5 -0.2,-11.2 14.9,0 -0.2,11.2 3,3.5 -14.9,3.5" fill="#008000" stroke="#008000" stroke-width="0.6" stroke-linejoin="round"/><polygon transform="translate(132.5 266.9) rotate(180)" points="-14.9,-3.5 3,-3.5 -0.2,-11.5 14.9,0 -0.2,11.5 3,3.5 -14.9,3.5" fill="#008000" stroke="#008000" stroke-width="0.6" stroke-linejoin="round"/><polygon transform="translate(701 237.6) rotate(-90)" points="-14.9,-3.5 3,-3.5 -0.2,-11.7 14.9,0 -0.2,11.7 3,3.5 -14.9,3.5" fill="#008000" stroke="#008000" stroke-width="0.6" stroke-linejoin="round"/><polygon transform="translate(453.2 549.4) rotate(0)" points="-15,-3.5 2.9,-3.5 -0.3,-11 15,0 -0.3,11 2.9,3.5 -15,3.5" fill="#008000" stroke="#008000" stroke-width="0.6" stroke-linejoin="round"/>
<rect x="786.3" y="463.5" width="90.7" height="84" rx="5" fill="#e0e0e0"/>
<polygon points="818.15,483 842.85,483 855.2,494.25 855.2,516.75 842.85,528 818.15,528 805.8,516.75 805.8,494.25" fill="#6f6f6f"/>
<polygon points="821.8,489.6 840.4,489.6 849.7,497.85 849.7,514.35 840.4,522.6 821.8,522.6 812.5,514.35 812.5,497.85" fill="#980000"/>
<rect x="903.7" y="463.7" width="78.3" height="83.3" fill="url(#checker)"/>
<g fill="none" stroke="#1c1c1c" stroke-width="3.8" stroke-linecap="round" stroke-linejoin="round">
<path d="M915.3 494.7 L922.5 493.7 L939.5 480.6 L939.5 524.8 L923.3 513 L915.3 511.7 Z"/>
<path d="M967 475.8 L915.8 530"/>
<path d="M948.0 501.0 A4.6 4.6 0 0 1 945.0 509.1"/>
<path d="M953.6 493.5 A14 14 0 0 1 950.2 517.5"/>
<path d="M960.1 487.8 A22.5 22.5 0 0 1 954.2 525.1"/>
</g>
<rect x="2" y="2" width="50.6" height="48.9" fill="#b9253d"/>
<path d="M2 12.3 H7.3 Q10.9 12.3 10.9 15.9 V30.6 A4.25 4.25 0 0 0 19.4 30.6 V16.4 A4.25 4.25 0 0 1 27.9 16.4 V30.6 A4.05 4.05 0 0 0 36 30.6 V16.4 A4.3 4.3 0 0 1 44.6 16.4 V50.9" fill="none" stroke="#e9e2e6" stroke-width="2.7"/>
<path d="M27.6 2 V3.6 A4.7 4.7 0 0 0 37 3.6 V2" fill="none" stroke="#e9e2e6" stroke-width="2.7"/>
<rect x="0" y="597.7" width="1021" height="1" fill="#e6e3e5"/>
<rect x="0" y="598.7" width="1021" height="1.3" fill="#1d79a0"/>
</svg>

<!-- header -->
<div class="a" style="left:59px;top:-2.5px;font-size:32.5px;font-weight:bold;color:#111;letter-spacing:-0.3px;transform-origin:0 0;transform:scaleX(1.085)">HLTK</div>
<div class="a" style="left:60px;top:30.3px;font-size:21px;font-weight:900;color:#151515;transform-origin:0 0;transform:scaleX(1.06)">华利智成</div>
<div class="a" style="left:186.5px;top:18px;font-size:24px;color:#111">智慧节能闭式冷却系统工艺监控界面</div>
<div class="a" style="left:595.5px;top:18px;font-size:24px;color:#111">注塑机</div>
<div class="a" style="left:683.5px;top:17.5px;font-size:26.5px;color:#222;font-family:'Liberation Serif','Noto Serif CJK SC',serif;word-spacing:5.5px">1 #</div>
<div class="a" style="left:737.5px;top:12.5px;font-size:20px;font-weight:bold;color:#f50000;letter-spacing:1px">2023/04/17</div>
<div class="a" style="left:865.5px;top:12.5px;font-size:20px;font-weight:bold;color:#f50000;letter-spacing:1.1px">MON</div>
<div class="a" style="left:935.5px;top:12.5px;font-size:20px;font-weight:bold;color:#f50000;letter-spacing:-0.15px">14:32:57</div>

<!-- status bar -->
<div class="a" style="left:3px;top:53.8px;width:1016.5px;height:35.2px;background:#c4c4c4;border:1px solid #9f9f9f;border-right-color:#b4b4b4;border-bottom-color:#b0b0b0;box-sizing:border-box;border-radius:1px"></div>
<div class="a" id="st" style="left:0;top:66.5px;font-size:16px;color:#1f4f8c;height:16px;width:1000px"><span class="a" style="left:6.5px;top:0">环境温度</span><span class="a" style="left:75.2px;top:0">30.6</span><span class="a" style="left:111.9px;top:0">℃</span><span class="a" style="left:137.5px;top:0">环境湿度</span><span class="a" style="left:206.5px;top:0">56.9</span><span class="a" style="left:242.5px;top:0">%</span><span class="a" style="left:270.9px;top:0">供水温度T1:</span><span class="a" style="left:366.5px;top:0">30.1</span><span class="a" style="left:402.5px;top:0">℃</span><span class="a" style="left:426.9px;top:0">水箱温度T2:</span><span class="a" style="left:522.5px;top:0">29.9</span><span class="a" style="left:559.2px;top:0">℃</span><span class="a" style="left:581.9px;top:0">回水温度T3:</span><span class="a" style="left:677.5px;top:0">30.1</span><span class="a" style="left:713.2px;top:0">℃</span><span class="a" style="left:732.5px;top:0">底盆水温T4:</span><span class="a" style="left:829.2px;top:0">30.0</span><span class="a" style="left:865.9px;top:0">℃</span><span class="a" style="left:885.9px;top:0">防冻启动指示</span></div>
<div class="a" style="left:989.4px;top:61.4px;width:21.6px;height:21.6px;border-radius:50%;background:radial-gradient(circle at 50% 50%,#fff 0,#f2f2f2 22%,#d4d4d4 65%,#bcbcbc 100%);box-shadow:0 0 0 0.9px #eeeeee, 0 0 0 1.6px #aaaaaa"></div>

<!-- alarm banner -->
<div class="a" style="left:50px;top:83px;width:683px;height:35px;background:#ffff00;overflow:hidden">
<div class="a" id="al" style="left:56.7px;top:4.5px;font-size:26.667px;font-weight:300;color:#ff2a00;font-family:'Liberation Serif','Noto Serif CJK SC',serif">2023<span class="c1">-</span>04<span class="c1">-</span>17<span class="c1">&nbsp;</span>14<span class="c1">:</span>32<span class="c1">:</span>40水箱缺水<span class="c1">!</span>请检查<span class="c1">!</span><span class="c1">|</span>2023<span class="c1">-</span>04<span class="c1">-</span>17</div></div>

<!-- tags -->
<div class="tag" style="left:83px;top:221px;width:67px;height:20px;line-height:23px">T1:  30.1 ℃</div>
<div class="tag" style="left:611px;top:133.8px;width:80px;height:19.8px;line-height:20.9px;font-size:11px">T3: 30.1 ℃</div>
<div class="tag" style="left:321px;top:332.2px;width:67px;height:18.8px;line-height:21.8px">T4:  30.0 ℃</div>
<div class="tag" style="left:118px;top:388.2px;width:80px;height:19.5px;line-height:21px">PH:  6.8</div>
<div class="tag" style="left:62px;top:436.5px;width:68px;height:19.5px;line-height:22.5px">T2:  29.9 ℃</div>
<div class="blk" style="left:263px;top:387px;width:92px;height:23px;line-height:27px;font-size:14.6px">F:  0.0 Hz</div>
<div class="blk" style="left:263px;top:471.3px;width:90px;height:22.5px;line-height:26.5px;font-size:14.6px">F:  0.0 Hz</div>
<div class="blk" style="left:417px;top:494px;width:90px;height:23.5px;line-height:25px;font-size:14.3px">P:  0.539 Bar</div>

<!-- labels -->
<div class="lab" style="left:206.2px;top:135.2px;font-size:12.1px">CF1</div>
<div class="lab" style="left:301.8px;top:135.2px;font-size:12.1px">CF2</div>
<div class="lab" style="left:397.2px;top:135.2px;font-size:12.1px">CF3</div>
<div class="lab" style="left:250.3px;top:443.5px;font-size:15.5px">CP1</div>
<div class="lab" style="left:249.3px;top:534.4px;font-size:15.5px">CP2</div>
<div class="lab" style="left:606.5px;top:310.5px;font-size:13px;letter-spacing:0.55px">CV2电动蝶阀</div>
<div class="lab" style="left:500.5px;top:544.5px;font-size:13px;letter-spacing:0.55px">CV1电动蝶阀</div>
<div class="lab" style="left:631.5px;top:557.2px;font-size:16px;letter-spacing:0.2px">注塑机设备</div>
<div class="lab" style="left:790px;top:566px;font-size:21px;letter-spacing:0.4px">一键启动</div>
<div class="lab" style="left:908.8px;top:566px;font-size:21px;letter-spacing:0.5px">报警静音</div>
<div class="a" style="left:804.8px;top:466.3px;font-size:16.4px;letter-spacing:0.5px;color:#fcfcfc">START</div>
<div class="a" style="left:808.6px;top:528.6px;font-size:16.4px;letter-spacing:0.5px;color:#9c0a14">STOP</div>

<!-- right panel -->
<div class="a" style="left:767px;top:96px;width:247.3px;height:316px;background:#fde99a;border-radius:6px;box-shadow:0 0 0 1.6px #c2c2c2, 1px 1.5px 1.5px 1px #bebebe;box-sizing:border-box"></div>
<div class="ttl" style="left:773.5px;top:105.5px;letter-spacing:0.1px">CF/SP环境温度控制参数设定</div>
<div class="row" style="left:773px;top:130px;width:236.5px;height:34.5px;padding:11.5px 0 0 1px">冷却供水温度T1设定:   26.0  ℃</div>
<div class="row" style="left:773.5px;top:169px;width:237px;height:35px;padding:11.5px 0 0 1px">喷淋泵节能温度设定:   26.0  ℃</div>
<div class="gbtn" style="left:774px;top:212px;width:231px;height:35px;line-height:38.5px">水塔风机&amp;底盆水防冻参数设置</div>
<div class="ttl" style="left:769.5px;top:262.5px;letter-spacing:0.3px">CP1/CP2供水水泵控制参数设定</div>
<div class="row" style="left:772.5px;top:285px;width:236.5px;height:34px;padding:12px 0 0 1.5px">供水压力P设定:   1.000  Bar</div>
<div class="row" style="left:773px;top:326px;width:237px;height:33.5px;padding:12px 0 0 1.5px">CP手动频率设定:   15.0  Hz</div>
<div class="gbtn" style="left:772.6px;top:371px;width:231px;height:34.6px;line-height:39.5px">闭塔内循环&amp;防冻参数设置</div>
</body></html>
